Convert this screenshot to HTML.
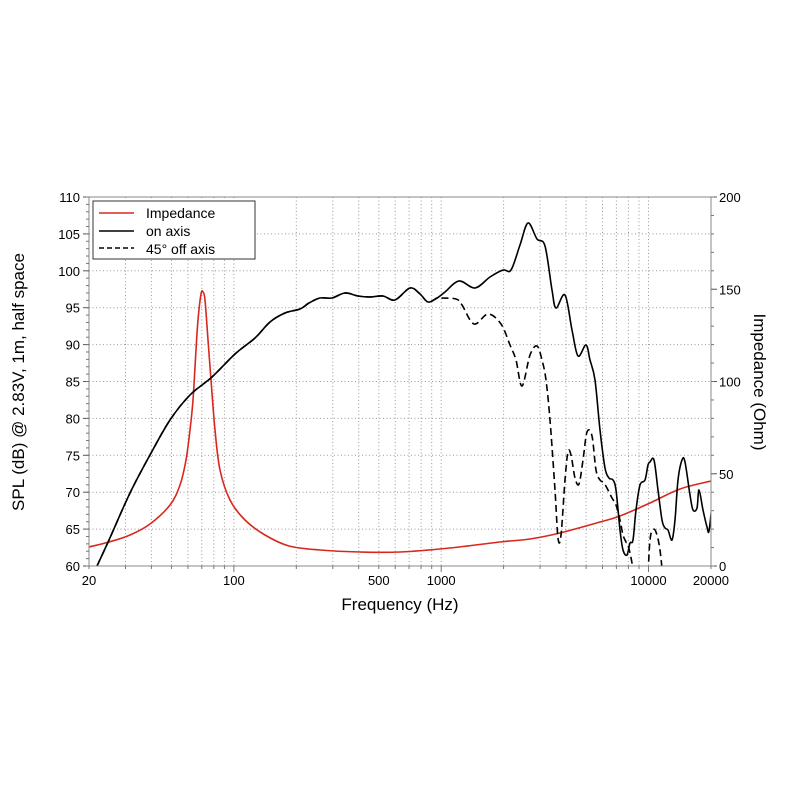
<!DOCTYPE html>
<html><head><meta charset="utf-8"><style>
html,body{margin:0;padding:0;background:#fff}
svg{display:block}
text{font-family:"Liberation Sans",Arial,sans-serif;fill:#000}
</style></head><body>
<svg id="s" width="800" height="800" viewBox="0 0 800 800" xmlns="http://www.w3.org/2000/svg">
<defs><clipPath id="c"><rect x="89" y="197" width="622" height="369"/></clipPath></defs>
<g id="grid"></g>
<g clip-path="url(#c)">
<path id="red" fill="none" stroke="#d8281e" stroke-width="1.6"/>
<path id="dash" fill="none" stroke="#000" stroke-width="1.6" stroke-dasharray="7,4"/>
<path id="on" fill="none" stroke="#000" stroke-width="1.6"/>
</g>
<rect x="89" y="197" width="622" height="369" fill="none" stroke="#888" stroke-width="1"/>
<g id="ticks"></g>
<rect x="93" y="201" width="162" height="58" fill="#fff" stroke="#333" stroke-width="1"/>
<line x1="99" y1="213" x2="134" y2="213" stroke="#d8281e" stroke-width="1.6"/>
<line x1="99" y1="231" x2="134" y2="231" stroke="#000" stroke-width="1.6"/>
<line x1="99" y1="248" x2="134" y2="248" stroke="#000" stroke-width="1.6" stroke-dasharray="5,3"/>
<text x="146" y="218" font-size="14">Impedance</text>
<text x="146" y="236" font-size="14">on axis</text>
<text x="146" y="254" font-size="14">45° off axis</text>
<text x="400" y="610" font-size="17" text-anchor="middle">Frequency (Hz)</text>
<text transform="translate(24,382) rotate(-90)" font-size="17" text-anchor="middle">SPL (dB) @ 2.83V, 1m, half space</text>
<text transform="translate(754,382) rotate(90)" font-size="17" text-anchor="middle">Impedance (Ohm)</text>
</svg>
<script>
const L=89,R=711,T=197,B=566,D=207.3;
const fx=f=>L+D*Math.log10(f/20);
const dy=d=>B-(d-60)*7.38;
let g='',t='';
for(let d=60;d<=110;d+=5){let y=dy(d);if(d>60&&d<110)g+=`<line x1="${L}" y1="${y}" x2="${R}" y2="${y}" stroke="#999" stroke-dasharray="1,2.5"/>`;
t+=`<line x1="${L-6}" y1="${y}" x2="${L}" y2="${y}" stroke="#555"/><text x="${L-9}" y="${y+5}" font-size="13" text-anchor="end">${d}</text>`;}
for(let d=60;d<=110;d++){let y=dy(d);t+=`<line x1="${L-3}" y1="${y}" x2="${L}" y2="${y}" stroke="#777"/>`;}
for(let o=0;o<=200;o+=50){let y=B-o*1.845;t+=`<line x1="${R}" y1="${y}" x2="${R+6}" y2="${y}" stroke="#555"/><text x="${R+8}" y="${y+5}" font-size="13">${o}</text>`;}
for(let o=0;o<=200;o+=10){let y=B-o*1.845;t+=`<line x1="${R}" y1="${y}" x2="${R+3}" y2="${y}" stroke="#777"/>`;}
for(let dec of [10,100,1000,10000])for(let k=1;k<10;k++){let f=dec*k;if(f<20||f>20000)continue;let x=fx(f);
if(x>L+1&&x<R-1)g+=`<line x1="${x}" y1="${T}" x2="${x}" y2="${B}" stroke="#999" stroke-dasharray="1,2.5"/>`;
t+=`<line x1="${x}" y1="${B}" x2="${x}" y2="${B+(k==1?6:3)}" stroke="#777"/>`;}
for(let f of [20,100,500,1000,10000,20000])t+=`<text x="${fx(f)}" y="${B+19}" font-size="13" text-anchor="middle">${f}</text>`;
document.getElementById('grid').innerHTML=g;document.getElementById('ticks').innerHTML=t;
function cr(p){let s=`M${p[0][0]},${p[0][1]}`;for(let i=0;i<p.length-1;i++){let p0=p[i-1]||p[i],p1=p[i],p2=p[i+1],p3=p[i+2]||p2;
s+=` C${p1[0]+(p2[0]-p0[0])/6},${p1[1]+(p2[1]-p0[1])/6} ${p2[0]-(p3[0]-p1[0])/6},${p2[1]-(p3[1]-p1[1])/6} ${p2[0]},${p2[1]}`;}return s;}
const red=[[89,547],[109,542],[130,535],[150,524],[170,505],[180,485],[186,460],[190,430],[193,400],[196,350],[198,320],[201,294],[203,292],[205,300],[208,340],[211,380],[215,430],[220,470],[230,500],[245,520],[265,535],[289,546],[320,550],[360,552],[400,552],[450,548],[500,542],[530,539],[560,533],[600,522],[620,516],[650,503],[680,489],[711,481]];
const base=[[97,566],[109,540],[130,493],[150,455],[170,420],[190,395],[212,377],[235,354],[255,338],[270,322],[285,313],[300,309],[309,303],[320,298],[332,298],[345,293],[358,296],[370,297],[383,296],[395,300],[410,288],[420,294],[428,302],[437,298]];
const on=base.concat([[445,292],[459,281],[475,288],[490,277],[503,270],[511,270],[520,245],[528,223],[537,239],[545,246],[552,290],[556,308],[565,295],[572,330],[578,356],[586,345],[590,360],[595,380],[600,430],[605,468],[609,478],[613,480],[616,490],[620,530],[623,550],[627,555],[630,543],[633,540],[636,510],[640,485],[645,480],[648,465],[650,462],[654,460],[658,490],[662,520],[665,528],[668,530],[672,540],[675,520],[678,480],[682,460],[685,462],[690,495],[693,510],[697,508],[699,490],[703,510],[707,527],[709,531],[712,505]]);
const dash=base.concat([[440,298],[456,299],[462,305],[474,324],[488,314],[501,324],[510,345],[516,360],[522,386],[530,355],[537,346],[542,360],[546,380],[550,420],[555,490],[558,538],[561,535],[565,480],[568,452],[571,455],[575,478],[579,484],[583,460],[587,432],[592,436],[596,470],[600,480],[604,483],[608,490],[612,498],[616,505],[620,520],[623,535],[626,542],[628,545],[632,563],[636,590],[646,590],[650,540],[653,530],[656,532],[660,550],[664,590]]);
document.getElementById('red').setAttribute('d',cr(red));
document.getElementById('on').setAttribute('d',cr(on));
document.getElementById('dash').setAttribute('d',cr(dash));
</script>
</body></html>
